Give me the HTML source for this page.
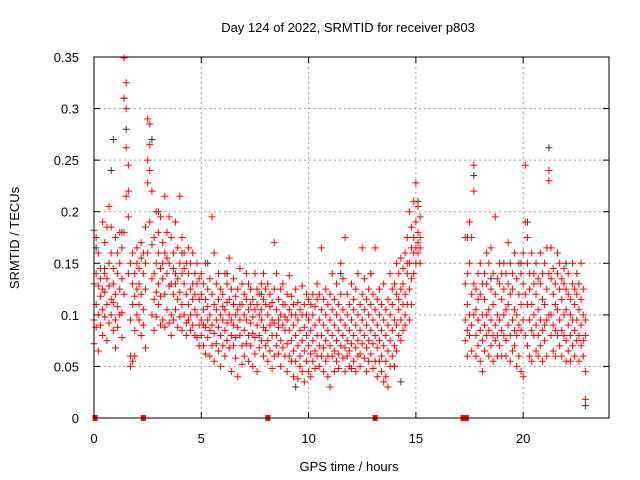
<!DOCTYPE html>
<html><head><meta charset="utf-8"><style>
body{margin:0;background:#fff}
svg{display:block;font-family:"Liberation Sans",sans-serif;font-size:13px}
</style></head><body>
<svg id="chart" width="640" height="480">
<rect width="640" height="480" fill="#fff"/>
<text x="348" y="32" text-anchor="middle">Day 124 of 2022, SRMTID for receiver p803</text>
<g id="grid"></g>
<g id="axes"></g>
<g id="marks"></g>
<rect x="94" y="57" width="515" height="361" fill="none" stroke="#000" stroke-width="1"/>
<text x="349" y="471" text-anchor="middle">GPS time / hours</text>
<text transform="translate(19,238) rotate(-90)" text-anchor="middle">SRMTID / TECUs</text>
</svg>
<script>
const xTicks=[0,5,10,15,20];
const yTicks=[0,0.05,0.1,0.15,0.2,0.25,0.3,0.35];
const yTickLabels=["0","0.05","0.1","0.15","0.2","0.25","0.3","0.35"];
// red rows: [hour, v1..v4] in milli-TECU
const redRows=[
[0.0,182,95,130,72],[0.1,175,140,88,110],[0.2,128,160,65,100],[0.3,135,118,90,145],[0.4,190,105,125,80],[0.5,122,170,98,140],[0.6,110,135,75,185],[0.7,150,92,128,205],[0.8,185,115,100,160],[0.9,130,85,145,112],
[1.0,120,175,95,68],[1.1,140,108,160,88],[1.2,125,180,100,150],[1.3,102,135,78,165],[1.4,349,310,180,120],[1.5,325,300,262,215],[1.6,220,245,195,140],[1.7,150,95,60,50],[1.8,160,110,55,130],[1.9,140,118,85,60],
[2.0,165,125,100,150],[2.1,130,95,145,110],[2.2,155,170,80,120],[2.3,140,105,90,160],[2.4,185,150,68,125],[2.5,228,250,290,160],[2.6,285,265,240,190],[2.7,220,168,135,100],[2.8,175,140,115,85],[2.9,200,150,122,98],
[3.0,160,180,130,110],[3.1,145,195,118,90],[3.2,170,135,95,150],[3.3,215,160,120,88],[3.4,180,140,105,155],[3.5,150,195,128,92],[3.6,175,130,100,80],[3.7,160,120,145,95],[3.8,190,140,105,130],[3.9,135,165,88,115],
[4.0,215,150,122,98],[4.1,175,140,110,85],[4.2,160,130,100,145],[4.3,150,120,92,80],[4.4,140,110,165,95],[4.5,125,150,100,85],[4.6,160,130,90,115],[4.7,140,105,80,120],[4.8,130,100,150,78],[4.9,115,90,135,70],
[5.0,120,95,80,140],[5.1,105,130,70,90],[5.2,115,88,150,62],[5.3,125,95,78,108],[5.4,100,135,85,60],[5.5,195,120,90,70],[5.6,110,160,82,55],[5.7,130,95,72,105],[5.8,115,88,140,65],[5.9,100,125,80,50],
[6.0,120,95,70,108],[6.1,105,140,85,60],[6.2,130,92,75,112],[6.3,115,100,155,68],[6.4,95,125,80,45],[6.5,110,90,135,70],[6.6,100,118,78,58],[6.7,125,88,105,40],[6.8,145,95,80,110],[6.9,110,130,70,52],
[7.0,100,85,120,60],[7.1,115,95,140,72],[7.2,105,80,130,55],[7.3,125,92,70,110],[7.4,98,115,82,50],[7.5,140,105,78,62],[7.6,110,90,125,45],[7.7,120,100,80,68],[7.8,95,130,75,105],[7.9,115,88,60,140],
[8.0,110,85,125,70],[8.1,100,130,75,55],[8.2,120,90,65,108],[8.3,95,112,80,48],[8.4,170,125,92,60],[8.5,105,80,140,70],[8.6,115,95,62,88],[8.7,100,125,75,50],[8.8,90,110,68,130],[8.9,110,85,60,98],
[9.0,95,120,72,45],[9.1,85,105,60,138],[9.2,100,75,118,55],[9.3,90,65,110,40],[9.4,80,100,55,125],[9.5,95,70,112,38],[9.6,85,60,105,50],[9.7,100,75,128,45],[9.8,88,65,110,35],[9.9,80,100,55,120],
[10.0,95,70,115,45],[10.1,85,110,62,40],[10.2,100,75,120,55],[10.3,90,65,108,48],[10.4,115,80,60,130],[10.5,95,120,70,50],[10.6,105,80,165,60],[10.7,90,115,68,45],[10.8,100,75,125,55],[10.9,85,110,60,40],
[11.0,95,70,120,30],[11.1,105,80,60,140],[11.2,90,115,65,45],[11.3,100,75,130,55],[11.4,110,85,62,48],[11.5,95,120,70,150],[11.6,105,80,135,58],[11.7,90,175,68,45],[11.8,100,75,120,60],[11.9,85,110,65,50],
[12.0,95,130,72,48],[12.1,105,80,115,55],[12.2,90,68,125,45],[12.3,100,140,75,60],[12.4,85,110,62,50],[12.5,95,72,120,165],[12.6,105,80,135,58],[12.7,90,115,68,45],[12.8,100,75,125,55],[12.9,140,85,62,110],
[13.0,95,120,72,48],[13.1,165,105,80,55],[13.2,90,68,115,40],[13.3,100,75,125,55],[13.4,85,60,110,45],[13.5,95,70,130,35],[13.6,80,105,55,40],[13.7,90,65,115,30],[13.8,75,100,50,140],[13.9,110,85,60,125],
[14.0,95,130,70,50],[14.1,120,90,150,65],[14.2,140,105,80,115],[14.3,125,155,95,75],[14.4,110,145,85,130],[14.5,160,120,100,90],[14.6,175,140,110,150],[14.7,150,200,125,95],[14.8,165,135,185,110],[14.9,210,160,175,140],
[15.0,228,190,165,150],[15.1,205,180,160,170],[15.2,175,150,195,165],
[17.3,95,130,75,175],[17.4,110,85,140,60],[17.5,150,100,190,80],[17.6,120,90,175,65],[17.7,245,130,100,220],[17.8,105,80,125,60],[17.9,140,95,115,70],
[18.0,120,85,150,55],[18.1,100,130,75,45],[18.2,115,90,140,65],[18.3,130,100,80,160],[18.4,105,150,85,60],[18.5,125,95,165,70],[18.6,110,80,140,55],[18.7,195,120,90,75],[18.8,100,135,80,60],[18.9,130,95,150,70],
[19.0,115,85,140,60],[19.1,125,100,80,150],[19.2,140,105,75,60],[19.3,110,130,90,170],[19.4,150,120,80,55],[19.5,125,95,140,65],[19.6,105,160,85,70],[19.7,135,100,80,50],[19.8,120,90,150,60],[19.9,140,110,85,45],
[20.0,130,95,160,40],[20.1,245,190,120,80],[20.2,150,110,175,70],[20.3,125,95,140,60],[20.4,110,160,85,55],[20.5,140,100,80,130],[20.6,120,90,150,65],[20.7,105,135,80,60],[20.8,130,95,160,70],[20.9,115,85,140,55],
[21.0,150,110,90,75],[21.1,125,165,95,60],[21.2,240,230,140,100],[21.3,135,100,165,80],[21.4,120,90,145,65],[21.5,110,130,85,60],[21.6,140,105,80,160],[21.7,125,95,150,70],[21.8,115,85,135,60],[21.9,130,100,80,145],
[22.0,105,125,75,55],[22.1,120,90,140,65],[22.2,100,115,80,55],[22.3,130,95,150,70],[22.4,110,85,125,60],[22.5,95,120,75,140],[22.6,105,80,130,55],[22.7,115,90,150,70],[22.8,100,75,125,60],[22.9,95,80,45,18]
];
const blackHours=[0.1,0.5,0.8,0.9,1.3,1.4,1.5,2.7,3.0,4.1,5.3,6.2,7.8,9.4,11.5,12.9,14.0,14.3,15.1,17.4,17.7,18.5,19.9,20.2,21.2,22.0,22.9];
const blackValues=[0.165,0.145,0.24,0.27,0.18,0.31,0.28,0.27,0.20,0.16,0.15,0.14,0.12,0.03,0.14,0.14,0.05,0.035,0.21,0.175,0.235,0.135,0.15,0.19,0.262,0.15,0.012];
const zeroHours=[0.05,2.3,8.1,13.1,17.2,17.35];

const X0=94,X1=609,Y0=418,Y1=57,XMAX=24,YMAX=0.35;
const xs=h=>X0+(X1-X0)*h/XMAX;
const ys=v=>Y0-(Y0-Y1)*v/YMAX;
const NS="http://www.w3.org/2000/svg";
function mk(tag,attrs,parent){const e=document.createElementNS(NS,tag);for(const k in attrs)e.setAttribute(k,attrs[k]);parent.appendChild(e);return e;}
const grid=document.getElementById('grid'),axes=document.getElementById('axes'),marks=document.getElementById('marks');
xTicks.forEach(t=>{
  const x=xs(t);
  if(t>0){const l=mk('line',{x1:x,x2:x,y1:Y1,y2:Y0,stroke:'#a0a0a0','stroke-dasharray':'2,3'},grid);
  
  }
  mk('line',{x1:x,x2:x,y1:Y0,y2:Y0-6,stroke:'#000'},axes);
  mk('line',{x1:x,x2:x,y1:Y1,y2:Y1+6,stroke:'#000'},axes);
  const tx=mk('text',{x:x,y:443,'text-anchor':'middle'},axes);tx.textContent=t;
  
  
});
yTicks.forEach((t,i)=>{
  const y=ys(t);
  if(i>0&&i<yTicks.length-1){const l=mk('line',{x1:X0,x2:X1,y1:y,y2:y,stroke:'#a0a0a0','stroke-dasharray':'2,3'},grid);
  
  }
  mk('line',{x1:X0,x2:X0+6,y1:y,y2:y,stroke:'#000'},axes);
  mk('line',{x1:X1,x2:X1-6,y1:y,y2:y,stroke:'#000'},axes);
  const tx=mk('text',{x:79,y:y+5,'text-anchor':'end'},axes);tx.textContent=yTickLabels[i];
  
  
});
function plus(h,v,color){
  const x=xs(h),y=ys(v);
  const p=mk('path',{d:`M${x-3.5},${y}h7M${x},${y-3.5}v7`,stroke:color,'stroke-width':1,fill:'none'},marks);
  
  
}
blackHours.forEach((h,i)=>plus(h,blackValues[i],'#333'));
redRows.forEach(r=>{for(let k=1;k<r.length;k++)plus(r[0],r[k]/1000,'#f00');});
zeroHours.forEach(h=>{
  const r=mk('rect',{x:xs(h)-2.5,y:Y0-3,width:5,height:6,fill:'#f00'},marks);
  
  
});
</script>
</body></html>
